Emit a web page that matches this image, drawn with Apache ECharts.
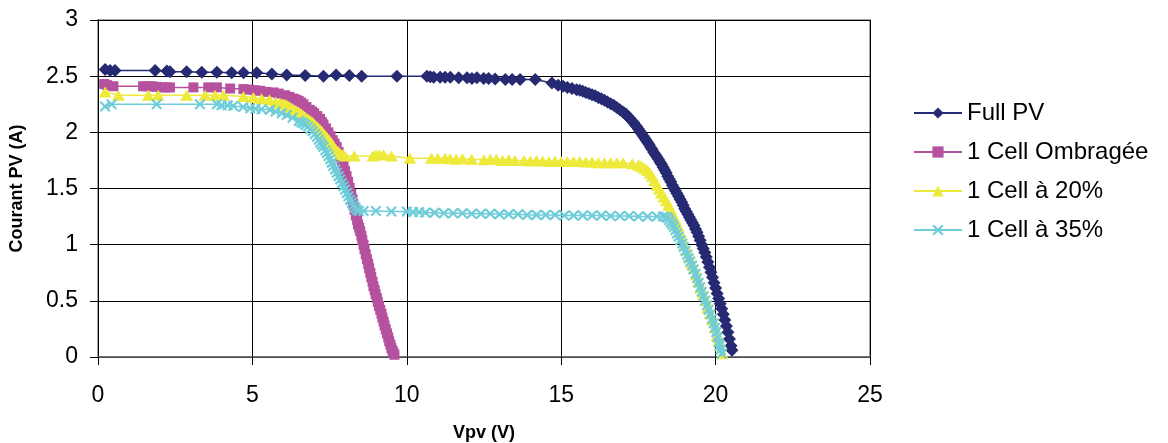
<!DOCTYPE html>
<html>
<head>
<meta charset="utf-8">
<script src="https://cdn.jsdelivr.net/npm/echarts@6/dist/echarts.min.js"></script>
<style>
html,body{margin:0;padding:0;background:#fff;}
#c{width:1168px;height:443px;}
</style>
</head>
<body>
<div id="c"></div>
<script>
// Series names
const seriesNames = ['Full PV', '1 Cell Ombragée', '1 Cell à 20%', '1 Cell à 35%'];

// Full PV: [Vpv, I]
const fullPV = [
  [0.23,2.56],[0.39,2.55],[0.55,2.55],[1.85,2.55],[2.23,2.545],[2.33,2.54],[2.87,2.54],[3.36,2.535],
  [3.85,2.535],[4.33,2.53],[4.71,2.53],[5.14,2.53],[5.63,2.52],[6.11,2.51],[6.71,2.505],[7.3,2.5],
  [7.71,2.51],[8.14,2.505],[8.54,2.5],[9.68,2.5],[10.65,2.5],[10.76,2.495],[10.87,2.49],[11.08,2.49],
  [11.24,2.49],[11.41,2.49],[11.68,2.485],[11.95,2.485],[12.11,2.48],[12.27,2.485],[12.49,2.48],
  [12.65,2.48],[12.86,2.475],[13.19,2.47],[13.41,2.47],[13.67,2.47],[14.16,2.47],[14.7,2.44],
  [14.9,2.42],[15.06,2.41],[15.2,2.40],[15.35,2.39],[15.5,2.38],[15.6,2.375],[15.7,2.365],[15.8,2.355],
  [15.9,2.345],[16.0,2.335],[16.1,2.325],[16.2,2.31],[16.3,2.30],[16.4,2.285],[16.5,2.27],[16.6,2.255],
  [16.7,2.24],[16.8,2.22],[16.9,2.20],[17.0,2.18],[17.05,2.17],[17.1,2.16],[17.15,2.145],[17.2,2.13],
  [17.25,2.115],[17.3,2.10],[17.35,2.085],[17.4,2.065],[17.45,2.05],[17.5,2.03],[17.55,2.01],[17.6,1.99],
  [17.65,1.97],[17.7,1.95],[17.75,1.93],[17.8,1.91],[17.85,1.89],[17.9,1.865],[17.95,1.845],[18.0,1.82],
  [18.05,1.80],[18.1,1.78],[18.15,1.76],[18.2,1.735],[18.25,1.715],[18.3,1.69],[18.35,1.665],[18.4,1.64],
  [18.45,1.61],[18.5,1.585],[18.55,1.56],[18.6,1.53],[18.65,1.505],[18.7,1.48],[18.75,1.455],[18.8,1.43],
  [18.85,1.405],[18.9,1.38],[18.95,1.35],[19.0,1.32],[19.05,1.295],[19.1,1.27],[19.15,1.245],[19.2,1.22],
  [19.25,1.195],[19.3,1.17],[19.35,1.14],[19.4,1.11],[19.45,1.075],[19.5,1.04],[19.55,1.00],[19.6,0.965],
  [19.65,0.93],[19.7,0.89],[19.75,0.845],[19.8,0.80],[19.85,0.755],[19.9,0.71],[19.95,0.66],[20.0,0.615],
  [20.05,0.565],[20.1,0.52],[20.15,0.475],[20.2,0.43],[20.25,0.38],[20.3,0.33],[20.35,0.275],[20.4,0.22],
  [20.45,0.16],[20.5,0.10],[20.53,0.06]
];

// 1 Cell Ombragée
const ombragee = [
  [0.2,2.43],[0.3,2.42],[0.5,2.41],[1.46,2.41],[1.6,2.41],[1.75,2.41],[1.9,2.405],[2.05,2.40],[2.2,2.40],
  [2.33,2.40],[3.09,2.40],[3.57,2.40],[3.85,2.40],[4.28,2.39],[4.71,2.385],[4.9,2.38],[5.07,2.375],
  [5.25,2.37],[5.45,2.36],[5.68,2.355],[5.85,2.345],[6.06,2.33],[6.2,2.315],[6.33,2.30],[6.42,2.29],
  [6.5,2.28],[6.58,2.265],[6.65,2.25],[6.75,2.225],[6.86,2.20],[6.93,2.185],[7.0,2.17],[7.1,2.145],
  [7.19,2.12],[7.25,2.09],[7.3,2.07],[7.38,2.035],[7.46,2.00],[7.53,1.965],[7.6,1.93],[7.66,1.90],
  [7.73,1.87],[7.79,1.825],[7.85,1.78],[7.9,1.74],[7.95,1.70],[8.0,1.655],[8.05,1.61],[8.1,1.56],
  [8.15,1.505],[8.2,1.45],[8.24,1.405],[8.27,1.36],[8.31,1.31],[8.35,1.26],[8.39,1.22],[8.42,1.18],
  [8.46,1.15],[8.49,1.12],[8.53,1.08],[8.56,1.04],[8.6,1.00],[8.63,0.96],[8.67,0.915],[8.71,0.87],
  [8.75,0.83],[8.78,0.79],[8.82,0.75],[8.85,0.71],[8.89,0.67],[8.92,0.63],[8.96,0.595],[8.99,0.56],
  [9.03,0.525],[9.06,0.49],[9.1,0.455],[9.14,0.42],[9.18,0.385],[9.21,0.35],[9.25,0.315],[9.28,0.28],
  [9.32,0.245],[9.36,0.21],[9.4,0.175],[9.43,0.14],[9.47,0.11],[9.5,0.08],[9.54,0.055],[9.57,0.035],
  [9.6,0.02]
];

// 1 Cell à 20%
const cell20 = [
  [0.23,2.36],[0.66,2.33],[1.63,2.33],[1.95,2.33],[2.87,2.33],[3.47,2.33],[3.79,2.33],[4.06,2.33],
  [4.71,2.32],[5.03,2.31],[5.3,2.30],[5.55,2.29],[5.75,2.27],[5.9,2.26],[5.98,2.255],[6.05,2.25],
  [6.12,2.24],[6.2,2.23],[6.28,2.215],[6.35,2.20],[6.42,2.19],[6.5,2.18],[6.58,2.165],[6.65,2.15],
  [6.72,2.135],[6.8,2.12],[6.88,2.105],[6.95,2.09],[7.02,2.07],[7.1,2.05],[7.18,2.03],[7.25,2.01],
  [7.32,1.985],[7.4,1.96],[7.48,1.935],[7.55,1.91],[7.62,1.88],[7.7,1.85],[7.78,1.83],[7.85,1.81],
  [7.92,1.80],[8.0,1.79],[8.3,1.79],[8.9,1.79],[9.0,1.80],[9.1,1.80],[9.25,1.80],[9.5,1.79],
  [10.1,1.77],[10.8,1.77],[11.0,1.77],[11.24,1.77],[11.4,1.765],[11.6,1.76],[11.8,1.765],[12.1,1.76],
  [12.5,1.755],[12.7,1.76],[12.9,1.76],[13.1,1.75],[13.3,1.755],[13.5,1.75],[13.8,1.75],[14.0,1.745],
  [14.2,1.75],[14.4,1.745],[14.6,1.74],[14.8,1.745],[15.0,1.74],[15.2,1.74],[15.4,1.74],[15.6,1.74],
  [15.8,1.735],[16.0,1.735],[16.2,1.73],[16.4,1.73],[16.6,1.73],[16.8,1.73],[17.0,1.73],[17.3,1.72],
  [17.5,1.71],[17.58,1.70],[17.65,1.69],[17.72,1.675],[17.8,1.66],[17.88,1.635],[17.95,1.61],[18.02,1.57],
  [18.1,1.53],[18.18,1.495],[18.25,1.46],[18.32,1.425],[18.4,1.39],[18.48,1.35],[18.55,1.31],[18.62,1.265],
  [18.7,1.22],[18.78,1.165],[18.85,1.11],[18.92,1.055],[19.0,1.00],[19.08,0.945],[19.15,0.89],[19.22,0.84],
  [19.3,0.79],[19.38,0.73],[19.45,0.67],[19.52,0.615],[19.6,0.56],[19.68,0.50],[19.75,0.44],[19.82,0.385],
  [19.9,0.33],[19.98,0.26],[20.05,0.19],[20.1,0.145],[20.15,0.10],[20.22,0.03]
];

// 1 Cell à 35%
const cell35 = [
  [0.23,2.23],[0.44,2.25],[1.9,2.25],[3.3,2.25],[3.85,2.25],[4.0,2.24],[4.2,2.24],[4.38,2.235],
  [4.7,2.225],[4.93,2.215],[5.1,2.21],[5.3,2.205],[5.57,2.20],[5.75,2.185],[5.95,2.17],[6.11,2.155],
  [6.3,2.13],[6.5,2.10],[6.58,2.09],[6.65,2.08],[6.72,2.065],[6.8,2.05],[6.88,2.03],[6.95,2.01],
  [7.02,1.985],[7.09,1.96],[7.15,1.935],[7.2,1.91],[7.25,1.89],[7.3,1.87],[7.36,1.84],[7.41,1.815],
  [7.47,1.79],[7.52,1.76],[7.57,1.73],[7.62,1.70],[7.68,1.67],[7.73,1.64],[7.79,1.61],[7.84,1.58],
  [7.9,1.55],[7.95,1.52],[8.0,1.49],[8.06,1.46],[8.11,1.43],[8.16,1.40],[8.22,1.375],[8.27,1.35],
  [8.33,1.33],[8.38,1.31],[8.45,1.30],[8.6,1.30],[9.0,1.30],[9.5,1.295],[10.0,1.295],[10.2,1.29],
  [10.4,1.29],[10.6,1.285],[10.9,1.285],[11.2,1.28],[11.5,1.28],[11.8,1.28],[12.1,1.275],[12.4,1.275],
  [12.7,1.275],[13.0,1.27],[13.3,1.27],[13.6,1.27],[13.9,1.265],[14.2,1.265],[14.5,1.265],[14.8,1.265],
  [15.1,1.26],[15.4,1.26],[15.7,1.26],[16.0,1.26],[16.3,1.26],[16.6,1.255],[16.9,1.255],[17.2,1.255],
  [17.5,1.25],[17.8,1.25],[18.1,1.25],[18.3,1.25],[18.4,1.245],[18.45,1.24],[18.5,1.22],[18.55,1.20],
  [18.6,1.18],[18.65,1.16],[18.7,1.13],[18.75,1.10],[18.8,1.07],[18.86,1.04],[18.92,1.01],[18.97,0.98],
  [19.02,0.945],[19.08,0.91],[19.13,0.88],[19.18,0.85],[19.24,0.815],[19.29,0.78],[19.35,0.74],[19.4,0.70],
  [19.45,0.66],[19.5,0.62],[19.55,0.58],[19.61,0.54],[19.66,0.50],[19.72,0.46],[19.77,0.42],[19.83,0.38],
  [19.88,0.34],[19.94,0.30],[19.98,0.26],[20.02,0.22],[20.06,0.175],[20.1,0.13],[20.13,0.10],[20.16,0.065],
  [20.2,0.03]
];

// Axis ticks
const xTicks = {min: 0, max: 25, interval: 5};
const yTicks = {min: 0, max: 3, interval: 0.5};

const colors = ['#262a72', '#b5519f', '#eeea3c', '#6fcdd9'];
const xPath = 'path://M0,1.4L1.4,0L5,3.6L8.6,0L10,1.4L6.4,5L10,8.6L8.6,10L5,6.4L1.4,10L0,8.6L3.6,5Z';
const symbols = ['diamond', 'rect', 'triangle', xPath];
const sizes = [[13,13], 10, [13,11], 11];
const datasets = [fullPV, ombragee, cell20, cell35];

const FONT = '"Liberation Sans", Arial, sans-serif';
const chart = echarts.init(document.getElementById('c'), null, {renderer: 'canvas'});
chart.setOption({
  animation: false,
  backgroundColor: '#ffffff',
  grid: {left: 98, right: 298, top: 20, bottom: 86, show: true, borderColor: '#888888', borderWidth: 1.5,
         backgroundColor: 'transparent', containLabel: false, outerBoundsMode: 'none'},
  legend: {
    orient: 'vertical', left: 908, top: 96,
    itemWidth: 48, itemHeight: 14, itemGap: 15,
    textStyle: {fontFamily: FONT, fontSize: 24, color: '#000'},
    data: seriesNames
  },
  xAxis: {
    type: 'value', min: xTicks.min, max: xTicks.max, interval: xTicks.interval,
    name: 'Vpv (V)', nameLocation: 'middle', nameGap: 67,
    nameTextStyle: {fontFamily: FONT, fontSize: 18, fontWeight: 'bold', color: '#000'},
    axisLine: {show: true, onZero: false, lineStyle: {color: '#666666', width: 1.5}},
    axisTick: {show: true, length: 8, inside: false, lineStyle: {color: '#000'}},
    axisLabel: {fontFamily: FONT, fontSize: 23, color: '#000', margin: 27},
    splitLine: {show: true, lineStyle: {color: '#000000', width: 1}}
  },
  yAxis: {
    type: 'value', min: yTicks.min, max: yTicks.max, interval: yTicks.interval,
    name: 'Courant PV (A)', nameLocation: 'middle', nameGap: 72, nameRotate: 90,
    nameTextStyle: {fontFamily: FONT, fontSize: 18, fontWeight: 'bold', color: '#000'},
    axisLine: {show: true, lineStyle: {color: '#000000', width: 1}},
    axisTick: {show: true, length: 8, lineStyle: {color: '#000'}},
    axisLabel: {fontFamily: FONT, fontSize: 23, color: '#000', margin: 20},
    splitLine: {show: true, lineStyle: {color: '#000000', width: 1}}
  },
  series: datasets.map((d, i) => ({
    name: seriesNames[i],
    type: 'line',
    data: d,
    symbol: symbols[i],
    symbolSize: sizes[i],
    showAllSymbol: true,
    lineStyle: {color: colors[i], width: 1.5},
    itemStyle: {color: colors[i]},
    emphasis: {disabled: true}
  }))
});
</script>
</body>
</html>
